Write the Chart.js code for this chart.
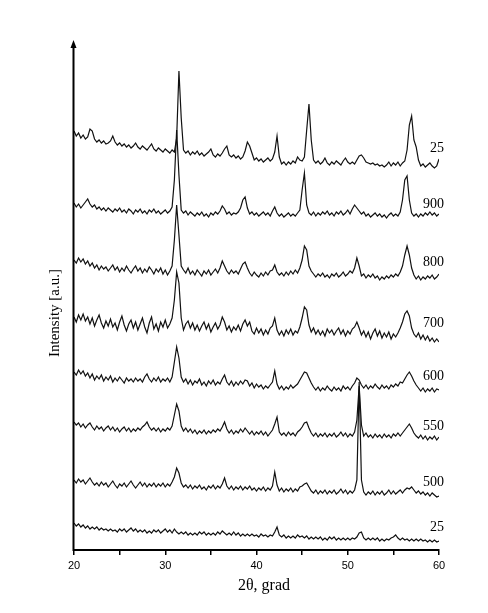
<!DOCTYPE html>
<html>
<head>
<meta charset="utf-8">
<title>XRD patterns</title>
<script src="https://cdn.jsdelivr.net/npm/chart.js@4.4.1/dist/chart.umd.min.js"></script>
<style>
  html, body { margin: 0; padding: 0; background: #fff; }
  #chart { display: block; }
</style>
</head>
<body>
<canvas id="chart" width="488" height="613"></canvas>
<script>
// 2theta sampling: 20..60 deg, every 0.25 deg
const angleStart = 20;
const angleStep = 0.25;
const angleCount = 161;
const angles = [];
for (let i = 0; i < angleCount; i++) angles.push(angleStart + i * angleStep);

// series names as printed at the right end of each pattern (top to bottom)
const seriesNames = ['25', '900', '800', '700', '600', '550', '500', '25'];

// intensities (a.u., patterns already offset), one row = 2 deg (8 points)
const int25top = [
  419,414,417,412,415,411,413,421,
  419,411,408,410,407,409,406,407,
  409,414,408,405,407,404,406,403,
  405,402,404,407,403,401,404,402,
  400,403,406,401,399,402,400,398,
  401,399,397,400,398,412,479,432,
  400,397,399,395,398,396,399,395,
  397,394,396,398,401,395,393,396,
  394,397,401,404,395,393,395,392,
  394,391,393,399,408,404,397,390,
  392,389,391,388,390,392,389,391,
  398,414,393,386,388,385,388,386,
  389,387,393,390,389,393,420,446,
  410,390,387,389,386,388,392,387,
  385,388,386,389,387,385,389,392,
  388,386,388,386,390,394,395,392,
  388,387,386,387,385,386,384,385,
  383,385,388,384,387,385,388,384,
  387,389,400,425,434,410,403,390,
  384,386,383,385,387,384,382,384,
  391
];
const int900 = [
  347,343,346,342,345,348,351,346,
  343,345,341,343,340,342,339,342,
  340,338,341,339,342,338,340,337,
  341,339,336,340,338,341,337,339,
  336,340,338,341,337,339,336,338,
  340,337,339,343,370,420,375,340,
  337,339,335,338,336,334,337,335,
  338,334,336,333,337,335,338,336,
  339,344,341,336,338,335,337,336,
  338,342,350,353,342,336,338,335,
  337,334,336,338,335,337,334,339,
  343,337,334,336,333,335,337,334,
  336,334,337,340,360,377,345,337,
  335,338,334,337,335,338,336,339,
  335,337,334,338,336,339,335,337,
  340,336,341,345,342,339,336,338,
  334,336,333,335,337,334,336,333,
  335,332,335,337,334,336,334,338,
  350,370,374,350,337,334,336,333,
  336,334,337,335,338,335,337,334,
  336
];
const int800 = [
  290,287,292,288,291,286,289,284,
  287,282,285,280,284,281,283,279,
  282,285,280,283,278,282,279,284,
  280,277,281,284,279,282,277,281,
  278,283,280,276,281,278,282,276,
  280,275,279,284,310,345,315,284,
  280,277,282,276,279,275,280,277,
  274,279,276,280,275,278,281,277,
  282,289,284,279,276,280,277,279,
  276,281,286,288,282,277,274,278,
  275,273,277,274,278,275,279,280,
  285,278,275,277,274,278,275,279,
  276,280,277,282,290,304,300,284,
  279,276,273,276,274,277,273,275,
  272,276,274,277,273,275,278,274,
  276,279,277,282,292,284,274,276,
  272,275,273,276,272,274,270,273,
  271,274,272,275,273,276,274,278,
  284,295,304,295,282,275,271,274,
  270,273,271,274,272,275,271,273,
  276
];
const int700 = [
  233,228,235,230,236,229,233,226,
  232,224,230,235,227,222,229,224,
  231,223,227,220,228,234,225,219,
  226,230,222,228,220,226,232,223,
  217,227,233,221,226,219,228,223,
  230,222,226,232,250,278,267,232,
  220,226,229,222,227,220,225,219,
  224,228,221,226,218,223,227,221,
  225,233,228,220,224,218,223,220,
  225,219,226,230,224,228,219,216,
  222,217,221,215,220,216,222,224,
  232,220,215,219,214,220,216,221,
  215,219,217,223,232,243,240,225,
  218,222,216,220,215,219,214,221,
  217,220,215,219,222,216,220,214,
  219,216,221,223,228,222,215,219,
  213,218,211,217,221,214,219,212,
  217,213,218,211,216,213,217,222,
  228,236,239,234,222,216,213,217,
  211,215,210,214,209,212,208,211,
  208
];
const int600 = [
  178,175,180,176,179,174,177,172,
  176,170,174,171,175,169,173,170,
  174,168,172,169,173,170,167,172,
  169,171,168,172,169,171,168,173,
  176,171,168,172,169,173,168,171,
  169,172,168,173,188,203,192,173,
  168,171,166,170,165,169,167,171,
  165,168,164,169,166,170,165,168,
  166,171,175,168,165,169,164,168,
  165,169,166,170,169,164,167,162,
  166,163,165,161,164,162,165,168,
  179,166,161,164,160,163,161,165,
  162,164,166,170,174,178,177,172,
  167,163,160,163,159,162,160,164,
  161,159,163,160,162,159,164,161,
  163,160,164,167,172,170,165,162,
  165,161,164,162,166,163,161,165,
  162,164,161,165,163,166,164,168,
  167,171,175,178,174,169,165,162,
  159,162,158,161,159,162,158,161,
  160
];
const int550 = [
  128,125,127,123,126,122,125,127,
  123,120,124,121,123,119,122,124,
  120,123,119,122,118,121,123,119,
  122,118,121,119,122,120,123,125,
  128,123,120,122,119,122,118,121,
  119,122,120,124,135,146,139,124,
  119,122,118,121,117,120,116,119,
  117,120,116,119,117,120,118,121,
  119,123,128,121,117,120,116,119,
  117,121,118,122,119,116,119,115,
  118,116,119,115,118,114,117,120,
  126,133,118,115,117,114,118,115,
  117,114,118,120,123,127,128,122,
  117,114,117,113,116,114,117,113,
  116,114,117,113,115,118,114,117,
  113,116,114,118,130,164,125,114,
  117,113,115,112,116,113,115,112,
  116,113,115,112,116,114,117,114,
  117,120,123,126,122,117,114,112,
  115,111,114,110,113,111,114,110,
  113
];
const int500 = [
  70,67,71,68,70,66,69,72,
  68,65,67,64,68,65,67,63,
  66,69,65,62,66,64,67,63,
  66,69,65,62,65,68,64,67,
  63,66,64,67,63,66,64,67,
  63,66,64,68,73,82,77,67,
  63,65,62,65,61,64,62,65,
  61,63,60,64,62,65,61,64,
  62,66,72,64,61,64,60,63,
  61,64,60,63,61,64,60,62,
  59,62,60,63,59,62,60,64,
  78,65,59,62,58,61,59,62,
  58,61,59,63,64,66,67,63,
  59,57,60,56,59,57,60,56,
  59,57,60,56,58,61,57,60,
  56,59,57,60,70,168,70,58,
  55,58,56,59,55,58,56,59,
  55,57,60,56,59,56,58,60,
  57,60,62,61,63,60,57,59,
  56,58,55,57,54,57,55,53,
  54
];
const int25bottom = [
  27,24,26,23,25,22,24,21,
  23,21,23,20,22,20,21,19,
  21,19,20,18,21,19,21,18,
  20,22,19,21,18,20,18,20,
  17,19,17,20,18,20,17,19,
  21,18,20,17,21,18,16,18,
  16,18,15,17,15,17,15,18,
  16,18,15,17,15,17,15,18,
  16,19,17,15,17,15,18,15,
  17,14,16,14,16,14,16,14,
  15,13,16,14,15,13,15,14,
  18,23,15,13,15,12,14,12,
  14,12,15,13,14,12,14,11,
  13,11,13,11,13,10,12,10,
  13,11,13,10,12,10,12,10,
  12,10,12,11,13,17,18,12,
  10,12,10,12,10,12,9,11,
  9,11,10,12,13,15,12,10,
  12,10,11,9,11,9,11,9,
  11,9,10,8,10,8,10,8,
  9
];

const seriesValues = [int25top, int900, int800, int700, int600, int550, int500, int25bottom];

// where each name sits (same a.u. scale, text baseline)
const nameLevels = [398, 342, 284, 223, 170, 120, 64, 19];

const xTicks = [20, 30, 40, 50, 60];

const lineColor = '#111';
const serif = "'Liberation Serif', 'Times New Roman', serif";
const sans = "'Liberation Sans', Arial, sans-serif";

// arrow on the y axis, axis titles and pattern names
const decorations = {
  id: 'decorations',
  afterDraw(chart) {
    const {ctx, chartArea, scales} = chart;
    const x0 = chartArea.left - 0.5;
    ctx.save();

    ctx.strokeStyle = '#000';
    ctx.lineWidth = 2;
    ctx.beginPath();
    ctx.moveTo(x0, chartArea.bottom + 1);
    ctx.lineTo(x0, chartArea.top + 2);
    ctx.stroke();

    ctx.fillStyle = '#000';
    ctx.beginPath();
    ctx.moveTo(x0, chartArea.top - 3);
    ctx.lineTo(x0 - 3, chartArea.top + 5);
    ctx.lineTo(x0 + 3, chartArea.top + 5);
    ctx.closePath();
    ctx.fill();

    ctx.font = '14px ' + serif;
    ctx.textAlign = 'right';
    ctx.textBaseline = 'alphabetic';
    seriesNames.forEach((name, i) => {
      ctx.fillText(name, chartArea.right + 5, scales.y.getPixelForValue(nameLevels[i]));
    });

    ctx.font = '16px ' + serif;
    ctx.textAlign = 'center';
    ctx.fillText('2θ, grad', 264, 590);

    ctx.translate(59, 313);
    ctx.rotate(-Math.PI / 2);
    ctx.font = '15px ' + serif;
    ctx.fillText('Intensity [a.u.]', 0, 0);
    ctx.restore();
  }
};

new Chart(document.getElementById('chart'), {
  type: 'line',
  data: {
    labels: angles,
    datasets: seriesValues.map((vals, i) => ({
      label: seriesNames[i],
      data: vals,
      borderColor: lineColor,
      borderWidth: 1.2,
      pointRadius: 0,
      tension: 0,
      fill: false
    }))
  },
  options: {
    responsive: false,
    animation: false,
    devicePixelRatio: 1,
    layout: { padding: { left: 74, right: 49, top: 43, bottom: 0 } },
    plugins: {
      legend: { display: false },
      tooltip: { enabled: false }
    },
    scales: {
      x: {
        type: 'linear',
        min: 20,
        max: 60,
        afterFit(scale) { scale.height = 63; },
        ticks: {
          stepSize: 5,
          autoSkip: false,
          maxRotation: 0,
          padding: 4,
          color: '#000',
          font: { family: sans, size: 11 },
          callback: v => xTicks.includes(v) ? String(v) : ''
        },
        grid: {
          drawOnChartArea: false,
          drawTicks: true,
          tickLength: 5,
          color: '#000',
          lineWidth: 1.5
        },
        border: { display: true, color: '#000', width: 2 }
      },
      y: {
        display: false,
        min: 0,
        max: 507
      }
    }
  },
  plugins: [decorations]
});
</script>
</body>
</html>
